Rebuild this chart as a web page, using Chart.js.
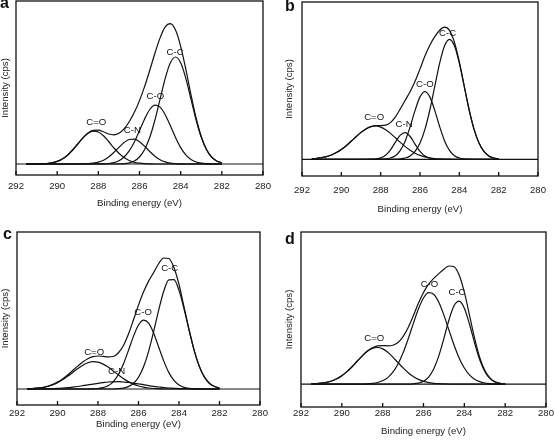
<!DOCTYPE html>
<html>
<head>
<meta charset="utf-8">
<script src="https://cdn.jsdelivr.net/npm/chart.js@4.4.1/dist/chart.umd.min.js"></script>
<style>
  body { margin: 0; background: #fff; width: 555px; height: 441px; position: relative; overflow: hidden;
         font-family: "Liberation Sans", Arial, sans-serif; }
  canvas { position: absolute; }
  .tag { position: absolute; font-weight: bold; font-size: 16px; line-height: 1; color: #111; }
</style>
</head>
<body>
<canvas id="chartA" width="277" height="220" style="left:0;top:0"></canvas>
<canvas id="chartB" width="277" height="220" style="left:278px;top:0"></canvas>
<canvas id="chartC" width="277" height="221" style="left:0;top:220px"></canvas>
<canvas id="chartD" width="277" height="221" style="left:278px;top:220px"></canvas>
<div class="tag" style="left:0;top:-5px">a</div>
<div class="tag" style="left:285px;top:-2px">b</div>
<div class="tag" style="left:3px;top:226px">c</div>
<div class="tag" style="left:285px;top:231px">d</div>
<script>
// Binding energy grid (eV), shared by every panel
const energies = [291.5, 291.25, 291.0, 290.75, 290.5, 290.25, 290.0, 289.75, 289.5, 289.25,
  289.0, 288.75, 288.5, 288.25, 288.0, 287.75, 287.5, 287.25, 287.0, 286.75,
  286.5, 286.25, 286.0, 285.75, 285.5, 285.25, 285.0, 284.75, 284.5, 284.25,
  284.0, 283.75, 283.5, 283.25, 283.0, 282.75, 282.5, 282.25, 282.0];
const xTicks = [292, 290, 288, 286, 284, 282, 280];

// Panel a
const aCdO = [0, 0, 0.1, 0.2, 0.5, 1.2, 2.6, 5.1, 8.8, 14.0, 20.0, 26.1, 30.8, 32.9, 32.0, 28.2, 22.5, 16.3, 10.7, 6.4,
  3.5, 1.7, 0.8, 0.3, 0.1, 0, 0, 0, 0, 0, 0, 0, 0, 0, 0, 0, 0, 0, 0];
const aCN = [0, 0, 0, 0, 0, 0, 0, 0, 0, 0, 0, 0.1, 0.3, 0.8, 1.8, 3.8, 7.0, 11.5, 16.6, 21.4,
  24.5, 24.8, 22.2, 17.7, 12.5, 7.8, 4.3, 2.1, 0.9, 0.4, 0.1, 0, 0, 0, 0, 0, 0, 0, 0];
const aCO = [0, 0, 0, 0, 0, 0, 0, 0, 0, 0, 0, 0, 0, 0, 0.1, 0.2, 0.5, 1.4, 3.3, 7.0,
  13.1, 22.1, 33.4, 45.1, 54.5, 58.9, 56.9, 49.3, 38.2, 26.5, 16.4, 9.1, 4.5, 2.0, 0.8, 0.3, 0.1, 0, 0];
const aCC = [0, 0, 0, 0, 0, 0, 0, 0, 0, 0, 0, 0, 0, 0, 0, 0, 0, 0, 0.1, 0.4,
  1.2, 3.1, 7.0, 14.5, 26.7, 44.0, 64.9, 85.7, 101.2, 107, 101.2, 85.7, 64.9, 44.0, 26.7, 14.5, 7.0, 3.1, 1.2];
const aSum = [0, 0, 0.1, 0.2, 0.5, 1.2, 2.6, 5.1, 8.8, 14.0, 20.0, 26.2, 31.1, 33.7, 33.9, 32.2, 30.0, 29.2, 30.7, 35.2,
  42.3, 51.7, 63.4, 77.6, 93.8, 110.7, 126.1, 137.1, 140.3, 133.9, 117.7, 94.8, 69.4, 46.0, 27.5, 14.8, 7.1, 3.1, 1.2];

// Panel b
const bCdO = [0.5, 0.9, 1.6, 2.7, 4.3, 6.7, 9.8, 13.6, 18.0, 22.6, 26.9, 30.4, 32.6, 33.3, 32.2, 29.6, 25.9, 21.5, 16.9, 12.7,
  9.0, 6.1, 3.9, 2.4, 1.4, 0.7, 0.4, 0.2, 0.1, 0, 0, 0, 0, 0, 0, 0, 0, 0, 0];
const bCN = [0, 0, 0, 0, 0, 0, 0, 0, 0, 0, 0, 0, 0.1, 0.4, 1.4, 4.1, 9.5, 17.2, 24.2, 26.6,
  22.8, 15.2, 7.9, 3.2, 1.0, 0.2, 0, 0, 0, 0, 0, 0, 0, 0, 0, 0, 0, 0, 0];
const bCO = [0, 0, 0, 0, 0, 0, 0, 0, 0, 0, 0, 0, 0, 0, 0.1, 0.4, 1.3, 3.6, 8.9, 18.4,
  32.6, 48.9, 62.4, 67.7, 62.4, 48.9, 32.6, 18.4, 8.9, 3.6, 1.3, 0.4, 0.1, 0, 0, 0, 0, 0, 0];
const bCC = [0, 0, 0, 0, 0, 0, 0, 0, 0, 0, 0, 0, 0, 0, 0, 0, 0, 0.1, 0.5, 1.3,
  3.4, 7.9, 16.2, 29.9, 49.3, 72.8, 96.1, 113.5, 120, 113.5, 96.1, 72.8, 49.3, 29.9, 16.2, 7.9, 3.4, 1.3, 0.5];
const bSum = [0.5, 0.9, 1.6, 2.7, 4.3, 6.7, 9.8, 13.6, 18.0, 22.6, 26.9, 30.4, 32.7, 33.7, 33.7, 34.1, 36.7, 42.4, 50.5, 59.0,
  67.8, 78.1, 90.4, 103.2, 114.1, 122.6, 129.1, 132.1, 129.0, 117.1, 97.4, 73.2, 49.4, 29.9, 16.2, 7.9, 3.4, 1.3, 0.5];

// Panel c
const cCdO = [0.2, 0.4, 0.8, 1.4, 2.5, 4.1, 6.3, 9.2, 12.7, 16.6, 20.4, 23.8, 26.2, 27.3, 26.8, 24.9, 21.9, 18.1, 14.2, 10.5,
  7.4, 4.9, 3.0, 1.8, 1.0, 0.5, 0.3, 0, 0, 0, 0, 0, 0, 0, 0, 0, 0, 0, 0];
const cCN = [0, 0, 0.1, 0.1, 0.2, 0.4, 0.6, 0.9, 1.3, 1.9, 2.5, 3.3, 4.1, 4.9, 5.7, 6.4, 7.0, 7.2, 7.3, 7.0,
  6.6, 5.9, 5.1, 4.3, 3.4, 2.6, 2.0, 1.4, 1.0, 0.7, 0.4, 0.3, 0.2, 0.1, 0.1, 0, 0, 0, 0];
const cCO = [0, 0, 0, 0, 0, 0, 0, 0, 0, 0, 0, 0, 0, 0.1, 0.5, 1.3, 3.2, 7.2, 14.2, 24.8,
  38.4, 52.6, 64.0, 68.9, 65.8, 55.8, 41.8, 27.9, 16.4, 8.6, 4.0, 1.6, 0.6, 0.2, 0.1, 0, 0, 0, 0];
const cCC = [0, 0, 0, 0, 0, 0, 0, 0, 0, 0, 0, 0, 0, 0, 0, 0, 0, 0, 0.3, 0.9,
  2.4, 5.6, 11.8, 22.2, 37.7, 57.6, 79.2, 98.0, 109.1, 109.4, 98.6, 80.0, 58.5, 38.4, 22.7, 12.1, 5.8, 2.5, 1.0];
const cSum = [0.2, 0.4, 0.9, 1.5, 2.7, 4.5, 6.9, 10.1, 14.0, 18.5, 22.9, 27.1, 30.3, 32.3, 33.0, 32.6, 32.1, 32.5, 36.0, 43.2,
  54.8, 69.0, 83.9, 97.2, 107.9, 116.5, 125.5, 131.0, 130.5, 121.5, 104.5, 81.9, 59.3, 38.7, 22.9, 12.1, 5.8, 2.5, 1.0];

// Panel d
const dCdO = [0.2, 0.4, 0.9, 1.7, 3.1, 5.3, 8.4, 12.5, 17.4, 22.9, 28.3, 32.9, 35.8, 36.7, 35.3, 31.9, 27.1, 21.6, 16.2, 11.4,
  7.5, 4.7, 2.7, 1.5, 0.8, 0.4, 0.2, 0, 0, 0, 0, 0, 0, 0, 0, 0, 0, 0, 0];
const dCO = [0, 0, 0, 0, 0, 0, 0, 0, 0, 0, 0, 0.3, 0.7, 1.6, 3.3, 6.5, 11.9, 20.1, 31.4, 45.4,
  60.7, 75.3, 86.4, 91.7, 90.2, 82.1, 69.2, 53.9, 39.0, 26.0, 16.1, 9.2, 4.9, 2.4, 1.1, 0.5, 0.2, 0, 0];
const dCC = [0, 0, 0, 0, 0, 0, 0, 0, 0, 0, 0, 0, 0, 0, 0, 0, 0, 0, 0, 0,
  0.3, 1.0, 2.8, 7.0, 15.1, 28.3, 45.9, 64.6, 78.8, 83.2, 76.1, 60.3, 41.4, 24.6, 12.7, 5.7, 2.2, 0.7, 0.2];
const dSum = [0.2, 0.4, 0.9, 1.7, 3.1, 5.3, 8.4, 12.5, 17.4, 22.9, 28.3, 33.2, 36.5, 38.3, 38.6, 38.4, 39.0, 41.7, 47.6, 56.8,
  68.5, 81.0, 91.9, 100.2, 106.1, 110.8, 115.3, 118.5, 117.8, 109.2, 92.2, 69.5, 46.3, 27.0, 13.8, 6.2, 2.4, 0.7, 0.2];

const FONT = '"Liberation Sans", Arial, sans-serif';
const FSIZE = 9.6;
const INK = '#111';

// frame, inward ticks and peak names
const framePlugin = {
  id: 'frame',
  afterDatasetsDraw(chart, args, opts) {
    const { ctx, chartArea: { left, top, right, bottom }, scales: { x, y } } = chart;
    ctx.save();
    ctx.strokeStyle = INK;
    ctx.lineWidth = 1.3;
    ctx.strokeRect(left, top, right - left, bottom - top);
    ctx.beginPath();
    xTicks.forEach(v => {
      const px = x.getPixelForValue(v);
      ctx.moveTo(px, bottom);
      ctx.lineTo(px, bottom - 4);
    });
    ctx.stroke();
    ctx.font = FSIZE + 'px ' + FONT;
    ctx.fillStyle = INK;
    ctx.textAlign = 'center';
    ctx.textBaseline = 'middle';
    (opts.peaks || []).forEach(p => ctx.fillText(p.text, x.getPixelForValue(p.e), y.getPixelForValue(p.h)));
    ctx.restore();
  }
};

function toPoints(arr) {
  return energies.map((e, i) => ({ x: e, y: arr[i] }));
}

function makePanel(id, series, cfg) {
  const datasets = series.map(arr => ({
    data: toPoints(arr),
    borderColor: INK,
    borderWidth: 1.2,
    pointRadius: 0,
    fill: false,
    cubicInterpolationMode: 'monotone'
  }));
  // baseline across the whole energy range
  datasets.push({
    data: [{ x: xTicks[0], y: 0 }, { x: xTicks[xTicks.length - 1], y: 0 }],
    borderColor: INK,
    borderWidth: 1.2,
    pointRadius: 0
  });

  return new Chart(document.getElementById(id), {
    type: 'line',
    data: { datasets },
    options: {
      responsive: false,
      animation: false,
      events: [],
      layout: { autoPadding: false, padding: { left: 0, top: cfg.top, right: cfg.right, bottom: 0 } },
      plugins: { legend: { display: false }, tooltip: { enabled: false }, frame: { peaks: cfg.peaks } },
      scales: {
        x: {
          type: 'linear',
          min: 280,
          max: 292,
          reverse: true,
          grid: { display: false, drawTicks: false },
          border: { display: false },
          afterFit: s => { s.height = cfg.xHeight; },
          ticks: {
            stepSize: 2,
            maxRotation: 0,
            autoSkip: false,
            padding: cfg.tickPad,
            color: '#222',
            font: { family: FONT, size: FSIZE }
          },
          title: {
            display: true,
            text: 'Binding energy (eV)',
            color: '#222',
            font: { family: FONT, size: FSIZE },
            padding: { top: 0, bottom: cfg.titlePad }
          }
        },
        y: {
          min: cfg.yMin,
          max: cfg.yMax,
          grid: { display: false, drawTicks: false },
          border: { display: false },
          ticks: { display: false },
          afterFit: s => { s.width = cfg.yWidth; },
          title: {
            display: true,
            text: 'Intensity (cps)',
            color: '#222',
            font: { family: FONT, size: FSIZE },
            padding: { top: cfg.yTitlePad, bottom: 0 }
          }
        }
      }
    },
    plugins: [framePlugin]
  });
}

makePanel('chartA', [aCdO, aCN, aCO, aCC, aSum], {
  top: 1, right: 13, xHeight: 45, yWidth: 16, yMin: -11, yMax: 163, tickPad: 6, titlePad: 11, yTitlePad: 0,
  peaks: [
    { text: 'C=O', e: 288.1, h: 41.7 },
    { text: 'C-N', e: 286.35, h: 33.3 },
    { text: 'C-O', e: 285.23, h: 67.3 },
    { text: 'C-C', e: 284.27, h: 111.7 }
  ]
});

makePanel('chartB', [bCdO, bCN, bCO, bCC, bSum], {
  top: 2, right: 8, xHeight: 44, yWidth: 24, yMin: -16.7, yMax: 157.3, tickPad: 9, titlePad: 5, yTitlePad: 6,
  peaks: [
    { text: 'C=O', e: 288.33, h: 42 },
    { text: 'C-N', e: 286.81, h: 35.3 },
    { text: 'C-O', e: 285.75, h: 75.3 },
    { text: 'C-C', e: 284.6, h: 126 }
  ]
});

makePanel('chartC', [cCdO, cCN, cCO, cCC, cSum], {
  top: 12, right: 17, xHeight: 36, yWidth: 17, yMin: -16, yMax: 157, tickPad: 2.5, titlePad: 11, yTitlePad: 0,
  peaks: [
    { text: 'C=O', e: 288.19, h: 36.3 },
    { text: 'C-N', e: 287.08, h: 17.3 },
    { text: 'C-O', e: 285.77, h: 76.3 },
    { text: 'C-C', e: 284.46, h: 120.7 }
  ]
});

makePanel('chartD', [dCdO, dCO, dCC, dSum], {
  top: 12, right: 9, xHeight: 34, yWidth: 23, yMin: -23, yMax: 152.6, tickPad: 1, titlePad: 3.5, yTitlePad: 6,
  peaks: [
    { text: 'C=O', e: 288.41, h: 46 },
    { text: 'C-O', e: 285.71, h: 100 },
    { text: 'C-C', e: 284.36, h: 91.6 }
  ]
});
</script>
</body>
</html>
